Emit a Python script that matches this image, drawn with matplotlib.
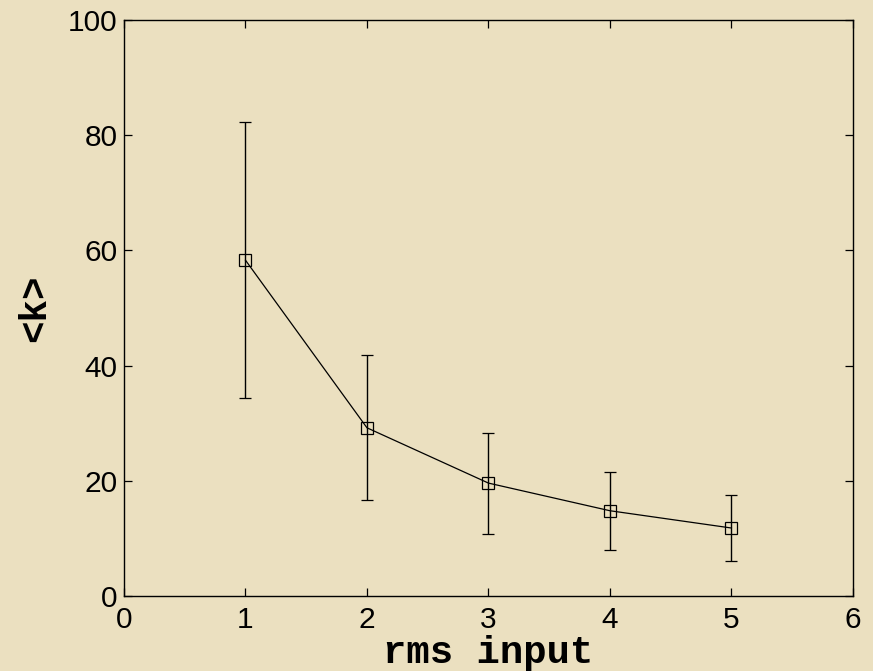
import matplotlib
matplotlib.use("Agg")
import matplotlib.pyplot as plt

# data
rms_input = [1, 2, 3, 4, 5]
mean_k = [58.3, 29.2, 19.6, 14.8, 11.8]
err_upper = [82.3, 41.8, 28.3, 21.5, 17.5]
err_lower = [34.4, 16.6, 10.8, 7.9, 6.1]

x_ticks = [0, 1, 2, 3, 4, 5, 6]
y_ticks = [0, 20, 40, 60, 80, 100]

bg = '#ebe0c0'

fig = plt.figure(figsize=(8.73, 6.71), dpi=100, facecolor=bg)
ax = fig.add_axes([0.142, 0.1118, 0.835, 0.8584], facecolor=bg)

yerr = [[m - lo for m, lo in zip(mean_k, err_lower)],
        [hi - m for m, hi in zip(mean_k, err_upper)]]
ax.errorbar(rms_input, mean_k, yerr=yerr, color='black', lw=0.9,
            elinewidth=1.0, capsize=4, capthick=1.0,
            marker='s', markersize=8, markerfacecolor='none',
            markeredgecolor='black', markeredgewidth=0.9)

ax.set_xlim(0, 6)
ax.set_ylim(0, 100)
ax.set_xticks(x_ticks)
ax.set_yticks(y_ticks)

ax.tick_params(direction='in', length=6, width=0.9, top=True, right=True,
               labelsize=21.5)
ax.tick_params(axis='x', pad=7)
ax.tick_params(axis='y', pad=4.5)
for lab in ax.get_xticklabels() + ax.get_yticklabels():
    lab.set_family('Liberation Sans')
for sp in ax.spines.values():
    sp.set_linewidth(1.0)

ax.set_xlabel('rms input', family='Liberation Mono', fontweight='bold',
              fontsize=28, labelpad=1)
ax.set_ylabel('<k>', family='Liberation Mono', fontweight='bold',
              fontsize=27, labelpad=11)

fig.savefig('out.png', dpi=100, facecolor=bg)
